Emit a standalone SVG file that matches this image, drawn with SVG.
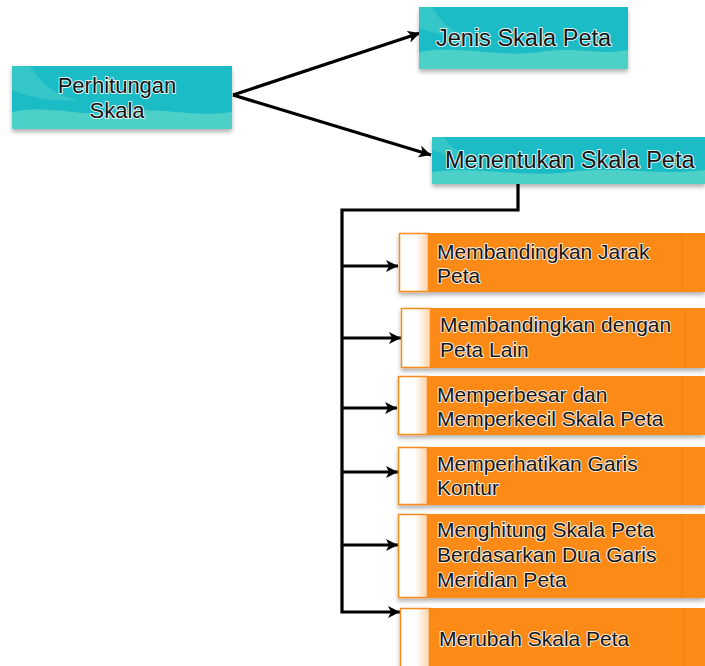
<svg xmlns="http://www.w3.org/2000/svg" width="705" height="666" viewBox="0 0 705 666">
<defs>
  <filter id="sh" x="-10%" y="-20%" width="120%" height="150%">
    <feDropShadow dx="0" dy="3" stdDeviation="2" flood-color="#000" flood-opacity="0.3"/>
  </filter>
  <linearGradient id="strip" x1="0" y1="0" x2="1" y2="0">
    <stop offset="0" stop-color="#ffffff"/>
    <stop offset="0.55" stop-color="#ffffff"/>
    <stop offset="1" stop-color="#fcd3a8"/>
  </linearGradient>
  <marker id="ah" markerUnits="userSpaceOnUse" markerWidth="14" markerHeight="14" refX="12" refY="7" orient="auto">
    <path d="M0,1 L12,7 L0,13 L3,7 Z" fill="#000"/>
  </marker>
  <style>
    .teal{fill:#1dbcc6}
    .wave{fill:#4dd0c7}
    .org{fill:#fc8a19}
    .sep{stroke:#ef7d10;stroke-width:1}
    .strip{fill:url(#strip);stroke:#fb8a1f;stroke-width:1.5}
    .t{font-family:"Liberation Sans",Arial,sans-serif;fill:#151515;stroke:#ffffff;stroke-opacity:0.85;stroke-width:2;stroke-linejoin:round;paint-order:stroke}
    .tb{font-size:23.5px}
    .tm{font-size:22px}
    .ts{font-size:21px}
    .ln{fill:none;stroke:#000;stroke-width:3.2}
  </style>
</defs>

<g id="connectors">
  <path class="ln" d="M233,95 L420,33" marker-end="url(#ah)"/>
  <path class="ln" d="M233,95 L431,155" marker-end="url(#ah)"/>
  <path class="ln" d="M518,184 V210 H342 V612 H400" marker-end="url(#ah)"/>
  <path class="ln" d="M342,266 H398" marker-end="url(#ah)"/>
  <path class="ln" d="M342,338 H401" marker-end="url(#ah)"/>
  <path class="ln" d="M342,408 H397" marker-end="url(#ah)"/>
  <path class="ln" d="M342,472 H398" marker-end="url(#ah)"/>
  <path class="ln" d="M342,545 H398" marker-end="url(#ah)"/>
</g>

<g id="perhitungan">
  <g filter="url(#sh)">
    <rect class="teal" x="12" y="66" width="220" height="63"/>
    <path class="wave" d="M12,112 C50,104 80,118 120,112 C160,106 190,118 232,112 V129 H12 Z"/>
    <path class="wave" opacity="0.5" d="M12,66 H30 C40,80 50,95 80,100 C50,102 25,96 12,90 Z"/>
  </g>
  <text class="t tm" x="117" y="93" text-anchor="middle">Perhitungan</text>
  <text class="t tm" x="117" y="118" text-anchor="middle">Skala</text>
</g>

<g id="jenis">
  <g filter="url(#sh)">
    <rect class="teal" x="419" y="7" width="209" height="62"/>
    <path class="wave" d="M419,52 C460,45 500,58 540,52 C580,46 600,56 628,50 V69 H419 Z"/>
    <path class="wave" opacity="0.5" d="M419,7 H432 C440,20 450,32 470,38 C450,38 430,32 419,28 Z"/>
  </g>
  <text class="t tb" x="436" y="46">Jenis Skala Peta</text>
</g>

<g id="menentukan">
  <g filter="url(#sh)">
    <rect class="teal" x="432" y="137" width="273" height="47"/>
    <path class="wave" d="M432,172 C480,166 520,178 570,172 C620,166 660,176 705,170 V184 H432 Z"/>
    <path class="wave" opacity="0.5" d="M432,137 H444 C450,147 460,154 478,158 C458,159 442,154 432,150 Z"/>
  </g>
  <text class="t tb" x="445" y="168">Menentukan Skala Peta</text>
</g>

<g id="b1">
  <g filter="url(#sh)">
    <rect class="org" x="399" y="233" width="306" height="59"/>
    <line class="sep" x1="682" y1="233" x2="682" y2="292"/>
    <rect class="strip" x="399.5" y="233.5" width="29" height="58"/>
  </g>
  <text class="t ts" x="437" y="259">Membandingkan Jarak</text>
  <text class="t ts" x="437" y="283">Peta</text>
</g>

<g id="b2">
  <g filter="url(#sh)">
    <rect class="org" x="401" y="308" width="304" height="60"/>
    <line class="sep" x1="685" y1="308" x2="685" y2="368"/>
    <rect class="strip" x="401.5" y="308.5" width="29" height="59"/>
  </g>
  <text class="t ts" x="440" y="332">Membandingkan dengan</text>
  <text class="t ts" x="440" y="357">Peta Lain</text>
</g>

<g id="b3">
  <g filter="url(#sh)">
    <rect class="org" x="398" y="376" width="307" height="59"/>
    <line class="sep" x1="682" y1="376" x2="682" y2="435"/>
    <rect class="strip" x="398.5" y="376.5" width="29" height="58"/>
  </g>
  <text class="t ts" x="437" y="402">Memperbesar dan</text>
  <text class="t ts" x="437" y="426">Memperkecil Skala Peta</text>
</g>

<g id="b4">
  <g filter="url(#sh)">
    <rect class="org" x="398" y="447" width="307" height="58"/>
    <line class="sep" x1="682" y1="447" x2="682" y2="505"/>
    <rect class="strip" x="398.5" y="447.5" width="29" height="57"/>
  </g>
  <text class="t ts" x="437" y="471">Memperhatikan Garis</text>
  <text class="t ts" x="437" y="495">Kontur</text>
</g>

<g id="b5">
  <g filter="url(#sh)">
    <rect class="org" x="398" y="514" width="307" height="84"/>
    <line class="sep" x1="682" y1="514" x2="682" y2="598"/>
    <rect class="strip" x="398.5" y="514.5" width="29" height="83"/>
  </g>
  <text class="t ts" x="437" y="537">Menghitung Skala Peta</text>
  <text class="t ts" x="437" y="562">Berdasarkan Dua Garis</text>
  <text class="t ts" x="437" y="587">Meridian Peta</text>
</g>

<g id="b6">
  <g filter="url(#sh)">
    <rect class="org" x="400" y="608" width="305" height="62"/>
    <line class="sep" x1="684" y1="608" x2="684" y2="666"/>
    <rect class="strip" x="400.5" y="608.5" width="29" height="60"/>
  </g>
  <text class="t ts" x="439" y="646">Merubah Skala Peta</text>
</g>
</svg>
